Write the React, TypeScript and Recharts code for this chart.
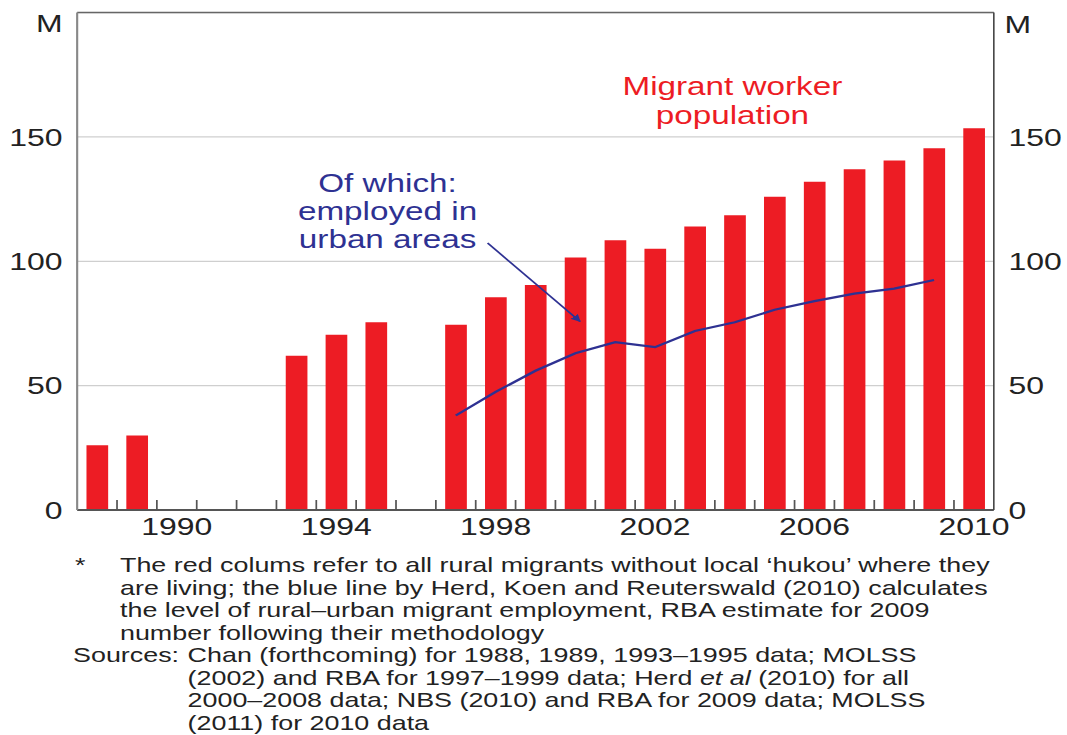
import React from 'react';
import {
  ComposedChart,
  Bar,
  Line,
  XAxis,
  YAxis,
  CartesianGrid,
  ReferenceLine,
} from 'recharts';

// ---------- data ----------
const YEARS = [
  '1988', '1989', '1990', '1991', '1992', '1993', '1994', '1995', '1996', '1997', '1998', '1999',
  '2000', '2001', '2002', '2003', '2004', '2005', '2006', '2007', '2008', '2009', '2010',
];
const MIGRANTS: (number | null)[] = [
  26, 30, null, null, null, 62, 70.5, 75.5, null, 74.5, 85.5, 90.5,
  101.5, 108.5, 105, 114, 118.5, 126, 132, 137, 140.5, 145.5, 153.5,
];
const URBAN: (number | null)[] = [
  null, null, null, null, null, null, null, null, null, 38, 47.5, 56,
  63, 67.5, 65.5, 72, 75.5, 80.5, 84, 87, 89, 92.5, null,
];
const Y_TICKS = [0, 50, 100, 150, 200];
const X_LABELS = ['1990', '1994', '1998', '2002', '2006', '2010'];
const TOP_LABEL = 'M';

const BAR_LABEL = ['Migrant worker', 'population'];
const LINE_LABEL = ['Of which:', 'employed in', 'urban areas'];

const data = YEARS.map((year, i) => ({ year, migrants: MIGRANTS[i], urban: URBAN[i] }));

// ---------- layout ----------
const PAGE_W = 1067;
const CHART_W = 802;
const STRETCH = PAGE_W / CHART_W;
const LEFT_W = 58;
const RIGHT_W = 55;
const PLOT_W = CHART_W - LEFT_W - RIGHT_W;
const CAT_W = PLOT_W / YEARS.length;
const FONT = '"Liberation Sans", Arial, sans-serif';
const RED = '#ED1C24';
const BLUE = '#2E3192';
const TEXT = '#222';
const AXIS = '#555';

const YTickLeft = (props: any) => {
  const { x, y, payload } = props;
  const isTop = payload.value === 200;
  return (
    <text x={x} y={isTop ? y + 10.5 : y} dy="0.36em" textAnchor="end" fontSize={24} fontFamily={FONT} fill={TEXT}>
      {isTop ? TOP_LABEL : payload.value}
    </text>
  );
};

const YTickRight = (props: any) => {
  const { x, y, payload } = props;
  const isTop = payload.value === 200;
  return (
    <text x={isTop ? x - 3 : x} y={isTop ? y + 12 : y} dy="0.36em" textAnchor="start" fontSize={24} fontFamily={FONT} fill={TEXT}>
      {isTop ? TOP_LABEL : payload.value}
    </text>
  );
};

const XTick = (props: any) => {
  const { x, y, payload, index } = props;
  const show = X_LABELS.includes(String(payload.value));
  const bx = x - CAT_W / 2;
  return (
    <g>
      {index > 0 && <line x1={bx} x2={bx} y1={y} y2={y - 10} stroke={AXIS} strokeWidth={1.3} />}
      {show && (
        <text x={x} y={y + 25} textAnchor="middle" fontSize={24} fontFamily={FONT} fill={TEXT}>
          {payload.value}
        </text>
      )}
    </g>
  );
};

const FOOT = 20.2;
const footLines = [572.5, 595, 617.5, 640, 662.5, 685, 707.5, 730];

export default function App() {
  return (
    <div
      style={{
        position: 'absolute',
        left: 0,
        top: 0,
        width: CHART_W,
        height: 735,
        transform: `scaleX(${STRETCH})`,
        transformOrigin: '0 0',
        background: '#fff',
        overflow: 'hidden',
      }}
    >
      <ComposedChart
        width={CHART_W}
        height={540}
        data={data}
        margin={{ top: 12.6, right: 0, bottom: 0, left: 0 }}
        barCategoryGap={0}
      >
        <CartesianGrid yAxisId="left" vertical={false} stroke="#cfcfcf" strokeWidth={1.2} />
        <XAxis
          dataKey="year"
          height={30}
          interval={0}
          tickSize={0}
          tickMargin={0}
          tickLine={false}
          axisLine={{ stroke: AXIS, strokeWidth: 2 }}
          tick={(p: any) => <XTick {...p} />}
        />
        <YAxis
          yAxisId="left"
          orientation="left"
          width={LEFT_W}
          domain={[0, 200]}
          ticks={Y_TICKS}
          interval={0}
          tickSize={0}
          tickMargin={11}
          tickLine={false}
          axisLine={{ stroke: '#888', strokeWidth: 1.6 }}
          tick={(p: any) => <YTickLeft {...p} />}
        />
        <YAxis
          yAxisId="right"
          orientation="right"
          width={RIGHT_W}
          domain={[0, 200]}
          ticks={Y_TICKS}
          interval={0}
          tickSize={0}
          tickMargin={11}
          tickLine={false}
          axisLine={{ stroke: '#444', strokeWidth: 1.2 }}
          tick={(p: any) => <YTickRight {...p} />}
        />
        <ReferenceLine yAxisId="left" y={200} stroke="#666" strokeWidth={1.5} />
        <Bar yAxisId="left" dataKey="migrants" fill={RED} barSize={16.3} isAnimationActive={false} />
        <Line
          yAxisId="right"
          dataKey="urban"
          type="linear"
          stroke={BLUE}
          strokeWidth={2.2}
          dot={false}
          activeDot={false}
          isAnimationActive={false}
        />
      </ComposedChart>
      <svg
        width={CHART_W}
        height={735}
        style={{ position: 'absolute', left: 0, top: 0, pointerEvents: 'none' }}
      >
        <defs>
          <marker id="arrowhead" viewBox="0 0 10 10" refX="9" refY="5" markerWidth="5" markerHeight="5" orient="auto">
            <path d="M0,0 L10,5 L0,10 z" fill={BLUE} />
          </marker>
        </defs>
        {BAR_LABEL.map((t, i) => (
          <text key={t} x={550.5} y={95 + i * 29} textAnchor="middle" fontSize={25} fontFamily={FONT} fill={RED}>
            {t}
          </text>
        ))}
        {LINE_LABEL.map((t, i) => (
          <text key={t} x={291.3} y={192 + i * 28} textAnchor="middle" fontSize={25} fontFamily={FONT} fill={BLUE}>
            {t}
          </text>
        ))}
        <line x1={366.5} y1={243} x2={436} y2={321.5} stroke={BLUE} strokeWidth={1.5} markerEnd="url(#arrowhead)" />

        <g fontSize={FOOT} fontFamily={FONT} fill={TEXT}>
          <text x={56.4} y={footLines[0]}>*</text>
          <text x={90.2} y={footLines[0]}>The red colums refer to all rural migrants without local ‘hukou’ where they</text>
          <text x={90.2} y={footLines[1]}>are living; the blue line by Herd, Koen and Reuterswald (2010) calculates</text>
          <text x={90.2} y={footLines[2]}>the level of rural–urban migrant employment, RBA estimate for 2009</text>
          <text x={90.2} y={footLines[3]}>number following their methodology</text>
          <text x={54.9} y={footLines[4]}>Sources:</text>
          <text x={141} y={footLines[4]}>Chan (forthcoming) for 1988, 1989, 1993–1995 data; MOLSS</text>
          <text x={141} y={footLines[5]}>
            (2002) and RBA for 1997–1999 data; Herd <tspan fontStyle="italic">et al</tspan> (2010) for all
          </text>
          <text x={141} y={footLines[6]}>2000–2008 data; NBS (2010) and RBA for 2009 data; MOLSS</text>
          <text x={141} y={footLines[7]}>(2011) for 2010 data</text>
        </g>
      </svg>
    </div>
  );
}
